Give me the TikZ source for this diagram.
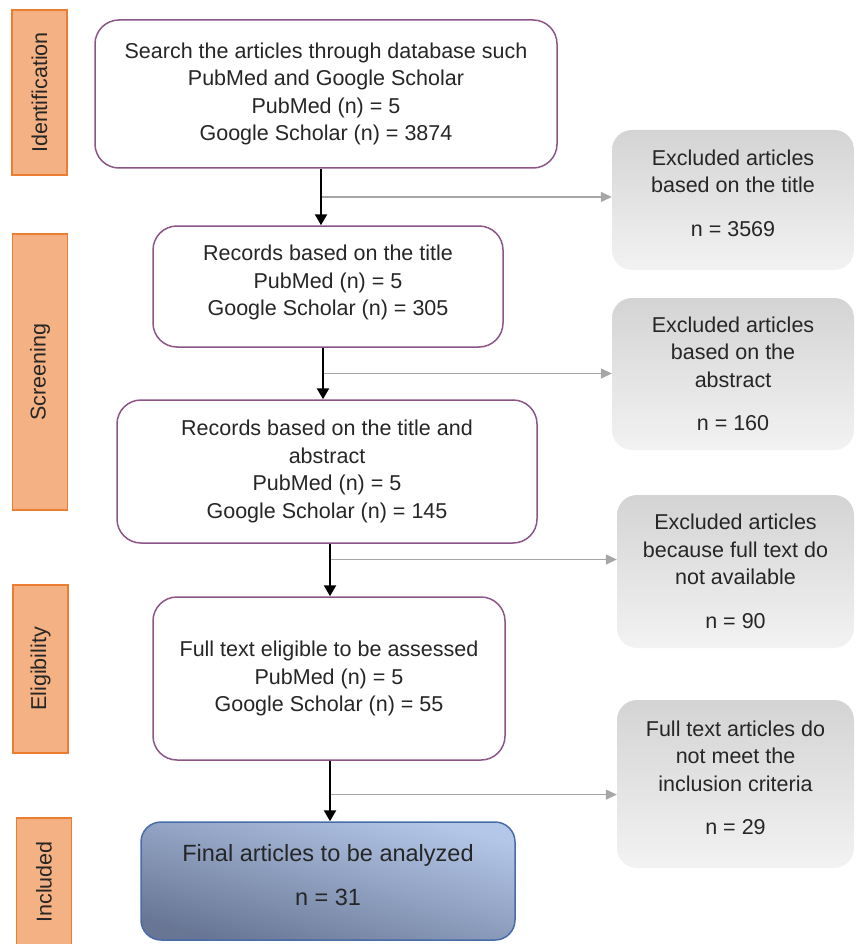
\documentclass[tikz,border=0pt]{standalone}
\usepackage{fontspec}
\setmainfont{Liberation Sans}
\usetikzlibrary{arrows.meta,calc,shadings}
\definecolor{stagefill}{RGB}{244,177,131}
\definecolor{stageline}{RGB}{237,125,49}
\definecolor{boxline}{RGB}{140,85,135}
\definecolor{finaltop}{RGB}{180,199,233}
\definecolor{finalbot}{RGB}{104,118,148}
\definecolor{finalline}{RGB}{72,108,168}
\definecolor{skipgray}{RGB}{166,166,166}
\definecolor{txt}{RGB}{38,38,38}
\tikzstyle{stage}=[rectangle,fill=stagefill,draw=stageline,line width=1.2pt,rotate=90,inner sep=0pt,text=txt]
\tikzstyle{mainbox}=[rectangle,rounded corners=24pt,draw=boxline,line width=1.5pt,fill=white,align=center,inner sep=0pt,text=txt]
\tikzstyle{sidebox}=[rectangle,rounded corners=20pt,top color=black!17,bottom color=black!5,align=center,inner sep=0pt,text=txt]
\tikzstyle{boxtext}=[align=center,inner sep=0pt,text=txt]
\tikzstyle{finalbox}=[rectangle,rounded corners=20pt,draw=finalline,line width=1.5pt,top color=finaltop,bottom color=finalbot,shading angle=-15,inner sep=0pt]
\tikzstyle{flow} = [draw,line width=2.4pt,-{Triangle[length=11pt,width=12pt]}]
\tikzstyle{skip} = [draw,skipgray,line width=1.4pt,-{Triangle[length=11pt,width=10pt]}]

\begin{document}
\begin{tikzpicture}[x=1pt,y=-1pt,every node/.style={font=\fontsize{21.5}{27.5}\selectfont}]
    \useasboundingbox (0,0) rectangle (855,944);

    % stages on the left
    \foreach \pos/\len/\name/\label in {{(39.5,92.5)/165/ident/Identification}, {(40,372)/276/screen/Screening},
        {(40.5,669)/168/elig/Eligibility}, {(44,882)/128/incl/Included}}
        \node[stage,minimum width=\len pt,minimum height=55pt] (\name) at \pos {\label};

    % main column
    \node[mainbox,minimum width=462pt,minimum height=148pt] (b1) at (326,94)
        {Search the articles through database such\\PubMed and Google Scholar\\PubMed (n) = 5\\Google Scholar (n) = 3874};
    \node[mainbox,minimum width=350pt,minimum height=121pt] (b2) at (328,286.5) {};
    \node[boxtext] (b2txt) at ([yshift=4pt]b2) {Records based on the title\\PubMed (n) = 5\\Google Scholar (n) = 305};
    \node[mainbox,minimum width=420pt,minimum height=143pt] (b3) at (327,471.5)
        {Records based on the title and\\abstract\\PubMed (n) = 5\\Google Scholar (n) = 145};
    \node[mainbox,minimum width=352pt,minimum height=163pt] (b4) at (329,678.5)
        {Full text eligible to be assessed\\PubMed (n) = 5\\Google Scholar (n) = 55};
    \node[finalbox,minimum width=374pt,minimum height=118pt] (b5) at (328,881) {};
    \node[boxtext,font=\fontsize{23.5}{30}\selectfont] (b5txt) at ([yshift=6pt]b5)
        {Final articles to be analyzed\\[14pt]n = 31};

    % excluded records
    \node[sidebox,minimum width=242pt,minimum height=140pt] (s1) at (733,200) {};
    \node[boxtext] (s1txt) at ([yshift=7pt]s1) {Excluded articles\\based on the title\\[16pt]n = 3569};
    \node[sidebox,minimum width=242pt,minimum height=152pt] (s2) at (733,374)
        {Excluded articles\\based on the\\abstract\\[16pt]n = 160};
    \node[sidebox,minimum width=237pt,minimum height=153pt] (s3) at (735.5,571.5)
        {Excluded articles\\because full text do\\not available\\[16pt]n = 90};
    \node[sidebox,minimum width=237pt,minimum height=168pt] (s4) at (735.5,784) {};
    \node[boxtext] (s4txt) at ([yshift=6pt]s4) {Full text articles do\\not meet the\\inclusion criteria\\[16pt]n = 29};

    % Connect boxes, with the branches to the excluded records
    \foreach \src/\dst/\dx/\ex/\f in {b1/b2/-5/s1/0.5, b2/b3/-5/s2/0.5, b3/b4/3/s3/0.3, b4/b5/1/s4/0.56} {
        \coordinate (top\src) at ([xshift=\dx pt]\src.south);
        \coordinate (bot\src) at (top\src |- \dst.north);
        \coordinate (j\src) at ($(top\src)!\f!(bot\src)$);
        \path[skip] (j\src) -- (j\src -| \ex.west);
        \path[flow] (top\src) -- (bot\src);
    }

\end{tikzpicture}
\end{document}
